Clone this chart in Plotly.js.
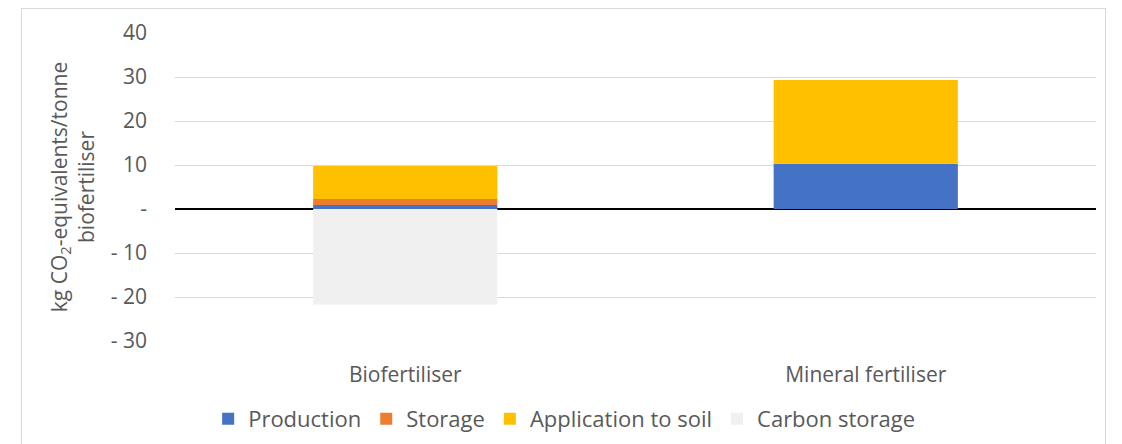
<!DOCTYPE html>
<html>
<head>
<meta charset="utf-8">
<script src="https://cdn.plot.ly/plotly-3.0.1.min.js"></script>
<style>
html,body{margin:0;padding:0;background:#fff;}
#frame{position:absolute;left:21px;top:8px;width:1085px;height:460px;border:1px solid #D9D9D9;box-sizing:border-box;}
#chart{position:absolute;left:0;top:0;width:1122px;height:444px;}
</style>
</head>
<body>
<div id="frame"></div>
<div id="chart"></div>
<script>
const categories = ["Biofertiliser", "Mineral fertiliser"];
const production = [0.9, 10.3];
const storage = [1.4, 0];
const applicationToSoil = [7.5, 19.0];
const carbonStorage = [-21.7, 0];
const tickValues = [-30, -20, -10, 0, 10, 20, 30, 40];
const tickLabels = ["- 30", "- 20", "- 10", "-", "10", "20", "30", "40"];

const font = "Open Sans";
const textColor = "#595959";
const traces = [
  {name: "Production", y: production, color: "#4472C4"},
  {name: "Storage", y: storage, color: "#ED7D31"},
  {name: "Application to soil", y: applicationToSoil, color: "#FFC000"},
  {name: "Carbon storage", y: carbonStorage, color: "#F0F0F0"}
].map(s => ({
  type: "bar", x: categories, y: s.y, name: s.name,
  marker: {color: s.color, line: {width: 0}},
  hoverinfo: "skip"
}));

const layout = {
  width: 1122, height: 444,
  paper_bgcolor: "rgba(0,0,0,0)", plot_bgcolor: "rgba(0,0,0,0)",
  margin: {l: 175, r: 26, t: 33, b: 103, autoexpand: false},
  barmode: "relative", bargap: 0.6,
  font: {family: font, size: 21, color: textColor},
  xaxis: {
    automargin: false,
    showgrid: false, showline: false, zeroline: false, ticks: "",
    ticklabelstandoff: 19,
    tickfont: {family: font, size: 21, color: textColor}
  },
  yaxis: {
    automargin: false,
    range: [-30, 40], tickvals: tickValues, ticktext: tickLabels,
    showgrid: true, gridcolor: "#D9D9D9", gridwidth: 1,
    zeroline: true, zerolinecolor: "#000000", zerolinewidth: 1.5,
    showline: false, ticks: "", ticklabelstandoff: 27,
    tickfont: {family: font, size: 21, color: textColor},
    title: {text: "kg CO<sub>2</sub>-equivalents/tonne<br>biofertiliser", font: {family: font, size: 21, color: textColor}, standoff: 10}
  },
  legend: {
    orientation: "h", x: 0.036, xanchor: "left", y: -0.253, yanchor: "middle",
    font: {family: font, size: 22, color: textColor}, traceorder: "normal",
    itemwidth: 30
  },
  showlegend: true
};

Plotly.newPlot("chart", traces, layout, {displayModeBar: false, staticPlot: true});
</script>
</body>
</html>
